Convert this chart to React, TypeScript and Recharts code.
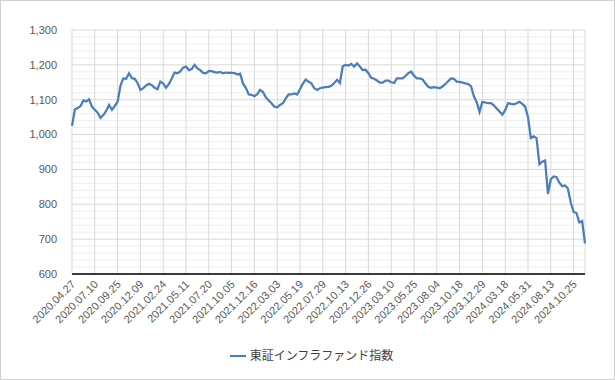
import React from 'react';
import { LineChart, Line, XAxis, YAxis, CartesianGrid, Legend } from 'recharts';

const tickLabels = [
  '2020.04.27', '2020.07.10', '2020.09.25', '2020.12.09', '2021.02.24', '2021.05.11',
  '2021.07.20', '2021.10.05', '2021.12.16', '2022.03.03', '2022.05.19', '2022.07.29',
  '2022.10.13', '2022.12.26', '2023.03.10', '2023.05.25', '2023.08.04', '2023.10.18',
  '2023.12.29', '2024.03.18', '2024.05.31', '2024.08.13', '2024.10.25',
];

const pointsPerLabel = 8;

const indexValues = [
  1025, 1072, 1076, 1082, 1098, 1095, 1101, 1080, 1071, 1063,
  1048, 1056, 1068, 1085, 1071, 1082, 1094, 1140, 1161, 1160,
  1176, 1162, 1160, 1148, 1128, 1133, 1141, 1146, 1142, 1134,
  1130, 1152, 1147, 1134, 1145, 1161, 1178, 1176, 1181, 1192,
  1195, 1185, 1188, 1200, 1190, 1185, 1177, 1176, 1182, 1182,
  1179, 1178, 1180, 1176, 1178, 1177, 1177, 1176, 1173, 1175,
  1146, 1134, 1115, 1114, 1110, 1116, 1128, 1122, 1107, 1098,
  1090, 1080, 1078, 1085, 1090, 1104, 1115, 1115, 1118, 1115,
  1130, 1146, 1158, 1152, 1147, 1133, 1128, 1133, 1135, 1136,
  1137, 1140, 1148, 1157, 1148, 1196, 1200, 1198, 1203, 1195,
  1204, 1195, 1185, 1186, 1176, 1163, 1160, 1155, 1149, 1149,
  1155, 1155, 1150, 1148, 1161, 1161, 1161, 1168, 1176, 1181,
  1169, 1161, 1161, 1158, 1147, 1137, 1134, 1136, 1135, 1133,
  1138, 1145, 1153, 1161, 1160, 1152, 1151, 1149, 1147, 1145,
  1139, 1110, 1093, 1065, 1094, 1092, 1090, 1090, 1084, 1075,
  1066, 1057, 1070, 1090, 1088, 1087, 1090, 1094, 1088, 1080,
  1050, 990, 995, 990, 915, 922, 926, 830, 872, 880,
  878, 862, 852, 854, 845, 805, 778, 775, 748, 752, 688,
];

const yTicks = [600, 700, 800, 900, 1000, 1100, 1200, 1300];
const minorStep = 20;
const seriesName = '東証インフラファンド指数';

const data = indexValues.map((v, i) => ({ i, value: v }));
const xTicks = tickLabels.map((_, k) => k * pointsPerLabel);
const minorY: number[] = [];
for (let v = yTicks[0]; v <= yTicks[yTicks.length - 1]; v += minorStep) {
  if (v % 100 !== 0) minorY.push(v);
}

const labelFont = '"Liberation Sans", Arial, sans-serif';

const XTick = (props: any) => {
  const { x, y, payload } = props;
  const k = Math.round(payload.value / pointsPerLabel);
  return (
    <text
      x={x + 4}
      y={y + 9}
      transform={`rotate(-45 ${x + 4} ${y + 9})`}
      textAnchor="end"
      fontSize={11}
      fontFamily={labelFont}
      fill="#595959"
    >
      {tickLabels[k]}
    </text>
  );
};

export default function App() {
  return (
    <div
      style={{
        position: 'absolute',
        left: 0,
        top: 0,
        width: 615,
        height: 380,
        boxSizing: 'border-box',
        border: '1px solid #d0d0d0',
        background: '#fff',
      }}
    >
      <div style={{ position: 'absolute', left: -1, top: -1 }}>
        <LineChart
          width={615}
          height={380}
          data={data}
          margin={{ top: 30, right: 30, left: 0, bottom: 8 }}
        >
          <CartesianGrid
            horizontalValues={minorY}
            vertical={false}
            stroke="#efefef"
            strokeWidth={1}
          />
          <CartesianGrid stroke="#d9d9d9" strokeWidth={1} />
          <XAxis
            dataKey="i"
            type="number"
            domain={[0, indexValues.length - 1]}
            ticks={xTicks}
            interval={0}
            tick={<XTick />}
            tickLine={false}
            tickSize={0}
            axisLine={{ stroke: '#000', strokeWidth: 1.5 }}
            height={72}
          />
          <YAxis
            domain={[600, 1300]}
            ticks={yTicks}
            interval={0}
            width={72}
            axisLine={false}
            tickLine={false}
            tickSize={0}
            tickMargin={15}
            tickFormatter={(v: number) => v.toLocaleString('en-US')}
            tick={{ fontSize: 11, fontFamily: labelFont, fill: '#595959' }}
          />
          <Legend
            verticalAlign="bottom"
            height={26}
            iconType="plainline"
            iconSize={16}
            wrapperStyle={{ left: 24, width: 585 }}
            formatter={(value: string) => (
              <span style={{ color: '#404040', fontSize: 12, fontFamily: '"Noto Sans CJK JP", sans-serif' }}>
                {value}
              </span>
            )}
          />
          <Line
            type="linear"
            dataKey="value"
            name={seriesName}
            stroke="#4a7ebb"
            strokeWidth={2.25}
            dot={false}
            isAnimationActive={false}
          />
        </LineChart>
      </div>
    </div>
  );
}
